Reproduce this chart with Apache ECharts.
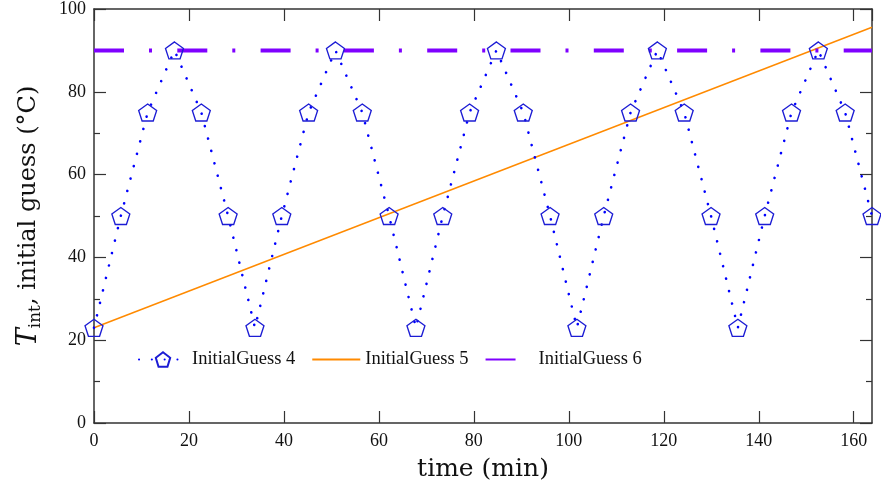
<!DOCTYPE html>
<html>
<head>
<meta charset="utf-8">
<script src="https://cdn.jsdelivr.net/npm/echarts@6/dist/echarts.min.js"></script>
<style>
  html, body { margin: 0; padding: 0; background: #fff; }
  #chart { width: 881px; height: 492px; }
</style>
</head>
<body>
<div id="chart"></div>
<script>
// time (min) of each guess point
var times4 = [0, 5.65, 11.3, 16.95, 22.6, 28.25, 33.9, 39.55, 45.2, 50.85,
              56.5, 62.15, 67.8, 73.45, 79.1, 84.75, 90.4, 96.05, 101.7, 107.35,
              113, 118.65, 124.3, 129.95, 135.6, 141.25, 146.9, 152.55, 158.2, 163.85];
var guess4 = [23, 50, 75, 90, 75, 50, 23, 50, 75, 90,
              75, 50, 23, 50, 75, 90, 75, 50, 23, 50,
              75, 90, 75, 50, 23, 50, 75, 90, 75, 50];
var times5 = [0, 163.85];
var guess5 = [23, 95.6];
var times6 = [0, 163.85];
var guess6 = [90, 90];
var seriesNames = ['InitialGuess 4', 'InitialGuess 5', 'InitialGuess 6'];

var xMax = 163.85;
var serif = 'Liberation Serif';
var axisColor = '#333';

function pairs(xs, ys) {
    var out = [];
    for (var i = 0; i < xs.length; i++) out.push([xs[i], ys[i]]);
    return out;
}

var pentagon = 'path://M0,-10 L9.51,-3.09 L5.88,8.09 L-5.88,8.09 L-9.51,-3.09 Z';

var myChart = echarts.init(document.getElementById('chart'));

function frameAxis(pos, max, minor) {
    // mirrored axis on the top / right, ticks only
    var ax = {
        type: 'value', position: pos, min: 0, max: max, interval: 20,
        axisLine: { onZero: false, lineStyle: { color: axisColor, width: 1.5 } },
        axisTick: { inside: true, length: 12, lineStyle: { color: axisColor, width: 1.2 } },
        axisLabel: { show: false },
        splitLine: { show: false }
    };
    if (minor) {
        ax.minorTick = { show: true, splitNumber: 2, length: 6, lineStyle: { color: axisColor, width: 1.2 } };
    }
    return ax;
}

var option = {
    animation: false,
    backgroundColor: '#fff',
    grid: { left: 94, right: 9, top: 9, bottom: 69, containLabel: false },
    legend: {
        data: [
            { name: seriesNames[0] },
            { name: seriesNames[1], itemStyle: { opacity: 0 } },
            { name: seriesNames[2], itemStyle: { opacity: 0 } }
        ],
        left: 133,
        top: 345,
        itemWidth: 48,
        itemHeight: 18,
        itemGap: 16,
        textStyle: { fontFamily: serif, fontSize: 18.5, color: '#111' }
    },
    xAxis: [
        {
            type: 'value', min: 0, max: xMax, interval: 20,
            name: 'time (min)', nameLocation: 'middle', nameGap: 34,
            nameTextStyle: { fontFamily: 'DejaVu Serif', fontSize: 25, color: '#111' },
            axisLine: { onZero: false, lineStyle: { color: axisColor, width: 1.5 } },
            axisTick: { inside: true, length: 12, lineStyle: { color: axisColor, width: 1.2 } },
            axisLabel: { fontFamily: serif, fontSize: 18, color: '#111', margin: 9,
                         showMaxLabel: false },
            splitLine: { show: false }
        },
        frameAxis('top', xMax, false)
    ],
    yAxis: [
        {
            type: 'value', min: 0, max: 100, interval: 20,
            name: '{it|T}{sub|int}{n|, initial guess (°C)}',
            nameLocation: 'middle', nameGap: 50, nameRotate: 90,
            nameTextStyle: {
                fontFamily: 'DejaVu Serif', fontSize: 25, color: '#111',
                rich: {
                    it: { fontFamily: 'DejaVu Serif', fontStyle: 'italic', fontSize: 27, lineHeight: 30, color: '#111' },
                    sub: { fontFamily: 'DejaVu Serif', fontSize: 17, lineHeight: 17, padding: [14, 0, 0, 0], color: '#111' },
                    n: { fontFamily: 'DejaVu Serif', fontSize: 24, lineHeight: 30, color: '#111' }
                }
            },
            axisLine: { onZero: false, lineStyle: { color: axisColor, width: 1.5 } },
            axisTick: { inside: true, length: 12, lineStyle: { color: axisColor, width: 1.2 } },
            minorTick: { show: true, splitNumber: 2, length: 6, lineStyle: { color: axisColor, width: 1.2 } },
            axisLabel: { fontFamily: serif, fontSize: 18, color: '#111', margin: 8 },
            splitLine: { show: false }
        },
        frameAxis('right', 100, true)
    ],
    series: [
        {
            name: seriesNames[0],
            type: 'line',
            data: pairs(times4, guess4),
            symbol: pentagon,
            symbolSize: [18, 17],
            showAllSymbol: true,
            lineStyle: { color: '#0000ff', width: 2.6, type: [0.1, 12.7], cap: 'round' },
            itemStyle: { color: 'rgba(255,255,255,0)', borderColor: '#1c1cd4', borderWidth: 1.3 },
            z: 3
        },
        {
            name: seriesNames[1],
            type: 'line',
            data: pairs(times5, guess5),
            symbol: 'none',
            lineStyle: { color: '#ff8a00', width: 1.5 },
            itemStyle: { color: '#ff8a00' },
            z: 2
        },
        {
            name: seriesNames[2],
            type: 'line',
            data: pairs(times6, guess6),
            symbol: 'none',
            lineStyle: { color: '#7f00ff', width: 4, type: [30, 25, 3, 25.3], cap: 'butt' },
            itemStyle: { color: '#7f00ff' },
            z: 2
        }
    ]
};

myChart.setOption(option);
</script>
</body>
</html>
